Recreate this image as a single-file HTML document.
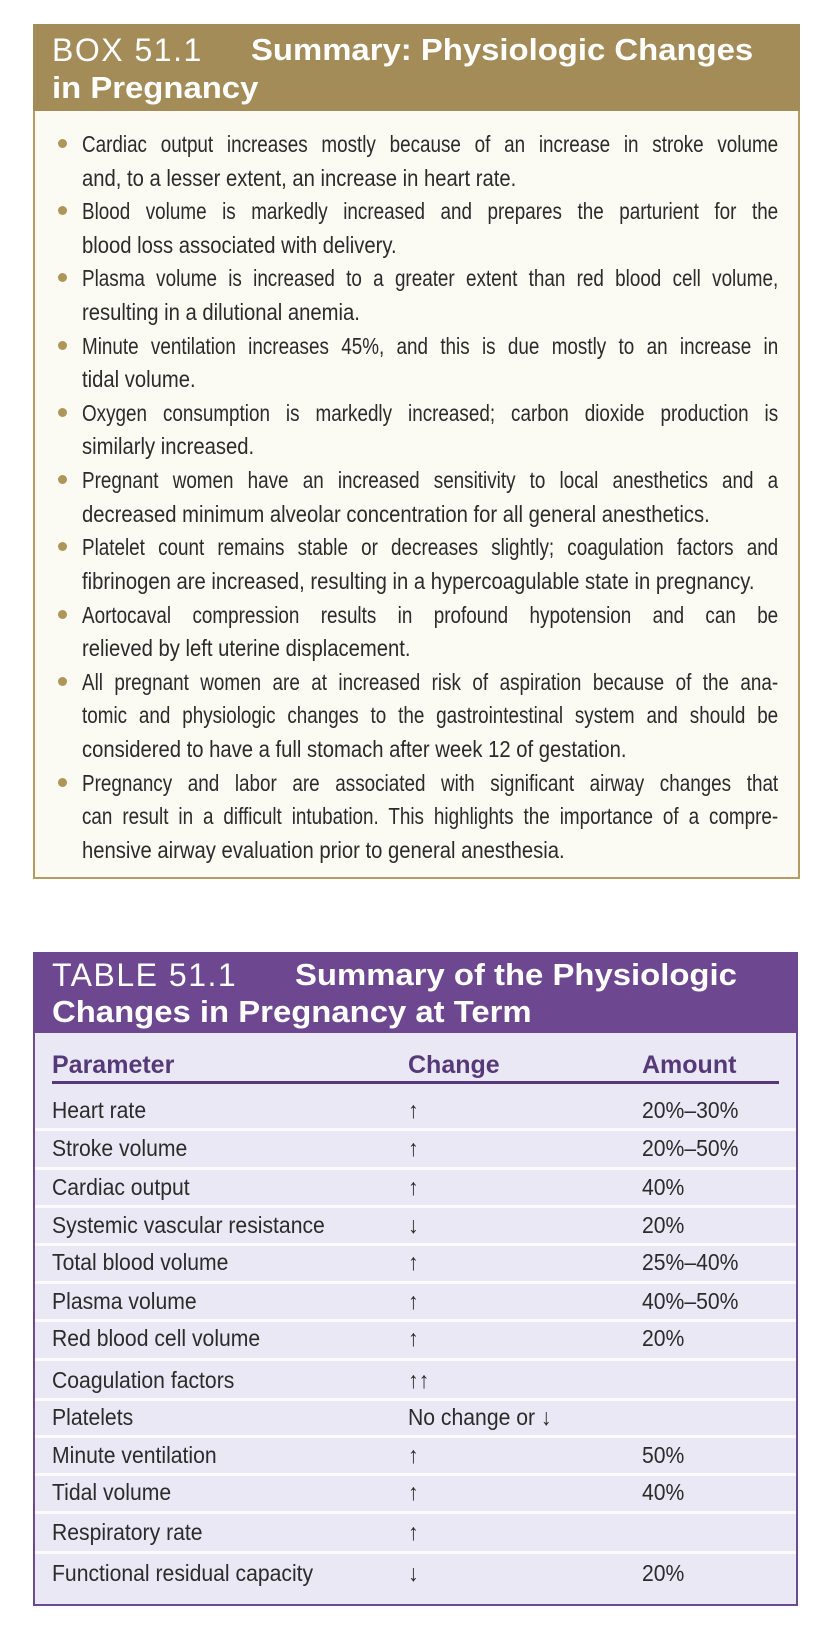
<!DOCTYPE html>
<html><head><meta charset="utf-8">
<style>
*{margin:0;padding:0;box-sizing:border-box}
body{width:820px;height:1630px;background:#fff;position:relative;overflow:hidden;font-family:"Liberation Sans",sans-serif;}
.box{position:absolute;left:33px;top:24px;width:767px;height:855px;border:2px solid #b59c60;background:#fbfaf3;}
.bh{position:absolute;left:33px;top:24px;width:767px;height:87px;background:#a48c58;}
.t{position:absolute;color:#fff;height:38px;line-height:38px;white-space:nowrap;}
.lt{font-size:32px;letter-spacing:1.5px;}
.bt{font-size:31px;font-weight:bold;display:inline-block;transform:scaleX(1.06);transform-origin:left center;}
.ln{position:absolute;left:82px;height:34px;line-height:34px;font-size:23px;color:#2b2b2b;white-space:nowrap;width:790px;transform:scaleX(.88);transform-origin:left center;}
.j{text-align:justify;text-align-last:justify;white-space:normal;overflow:hidden;width:849px;transform:scaleX(.82);}
.dot{position:absolute;left:58px;width:9px;height:9px;border-radius:50%;background:#b0955b;}
.tbl{position:absolute;left:33px;top:952px;width:765px;height:654px;border:2px solid #6b4a8f;background:#eae8f4;}
.th{position:absolute;left:33px;top:952px;width:765px;height:81px;background:#6d4790;}
.sep{position:absolute;left:35px;width:761px;height:3px;background:#fbfbfe;}
.c{position:absolute;font-size:23px;height:38px;line-height:38px;color:#2b2b2b;white-space:nowrap;transform:scaleX(.92);transform-origin:left center;}
.hd{position:absolute;font-size:25px;font-weight:bold;color:#553978;height:38px;line-height:38px;white-space:nowrap;}
</style></head><body>
<div class="box"></div>
<div class="bh"></div>
<div class="t" style="left:52px;top:31px;"><span class="lt">BOX 51.1</span></div>
<div class="t" style="left:251px;top:31px;"><span class="bt">Summary: Physiologic Changes</span></div>
<div class="t" style="left:52px;top:69px;"><span class="bt">in Pregnancy</span></div>

<div class="dot" style="top:139px"></div>
<div class="ln j" style="top:127px">Cardiac output increases mostly because of an increase in stroke volume</div>
<div class="ln" style="top:161px">and, to a lesser extent, an increase in heart rate.</div>
<div class="dot" style="top:206px"></div>
<div class="ln j" style="top:194px">Blood volume is markedly increased and prepares the parturient for the</div>
<div class="ln" style="top:228px">blood loss associated with delivery.</div>
<div class="dot" style="top:273px"></div>
<div class="ln j" style="top:261px">Plasma volume is increased to a greater extent than red blood cell volume,</div>
<div class="ln" style="top:295px">resulting in a dilutional anemia.</div>
<div class="dot" style="top:341px"></div>
<div class="ln j" style="top:329px">Minute ventilation increases 45%, and this is due mostly to an increase in</div>
<div class="ln" style="top:362px">tidal volume.</div>
<div class="dot" style="top:408px"></div>
<div class="ln j" style="top:396px">Oxygen consumption is markedly increased; carbon dioxide production is</div>
<div class="ln" style="top:429px">similarly increased.</div>
<div class="dot" style="top:475px"></div>
<div class="ln j" style="top:463px">Pregnant women have an increased sensitivity to local anesthetics and a</div>
<div class="ln" style="top:497px">decreased minimum alveolar concentration for all general anesthetics.</div>
<div class="dot" style="top:542px"></div>
<div class="ln j" style="top:530px">Platelet count remains stable or decreases slightly; coagulation factors and</div>
<div class="ln" style="top:564px">fibrinogen are increased, resulting in a hypercoagulable state in pregnancy.</div>
<div class="dot" style="top:610px"></div>
<div class="ln j" style="top:598px">Aortocaval compression results in profound hypotension and can be</div>
<div class="ln" style="top:631px">relieved by left uterine displacement.</div>
<div class="dot" style="top:677px"></div>
<div class="ln j" style="top:665px">All pregnant women are at increased risk of aspiration because of the ana-</div>
<div class="ln j" style="top:698px">tomic and physiologic changes to the gastrointestinal system and should be</div>
<div class="ln" style="top:732px">considered to have a full stomach after week 12 of gestation.</div>
<div class="dot" style="top:778px"></div>
<div class="ln j" style="top:766px">Pregnancy and labor are associated with significant airway changes that</div>
<div class="ln j" style="top:799px">can result in a difficult intubation. This highlights the importance of a compre-</div>
<div class="ln" style="top:833px">hensive airway evaluation prior to general anesthesia.</div>

<div class="tbl"></div>
<div class="th"></div>
<div class="t" style="left:52px;top:956px;"><span class="lt">TABLE 51.1</span></div>
<div class="t" style="left:295px;top:956px;"><span class="bt">Summary of the Physiologic</span></div>
<div class="t" style="left:52px;top:993px;"><span class="bt">Changes in Pregnancy at Term</span></div>

<div class="hd" style="left:52px;top:1046px">Parameter</div>
<div class="hd" style="left:408px;top:1046px">Change</div>
<div class="hd" style="left:642px;top:1046px">Amount</div>
<div style="position:absolute;left:52px;top:1081px;width:727px;height:3px;background:#553978"></div>

<div class="sep" style="top:1128px"></div>
<div class="sep" style="top:1167px"></div>
<div class="sep" style="top:1205px"></div>
<div class="sep" style="top:1243px"></div>
<div class="sep" style="top:1281px"></div>
<div class="sep" style="top:1319px"></div>
<div class="sep" style="top:1358px"></div>
<div class="sep" style="top:1398px"></div>
<div class="sep" style="top:1435px"></div>
<div class="sep" style="top:1473px"></div>
<div class="sep" style="top:1511px"></div>
<div class="sep" style="top:1551px"></div>

<div class="c" style="left:52px;top:1091px">Heart rate</div><div class="c" style="left:408px;top:1091px">↑</div><div class="c" style="left:642px;top:1091px">20%–30%</div>
<div class="c" style="left:52px;top:1129px">Stroke volume</div><div class="c" style="left:408px;top:1129px">↑</div><div class="c" style="left:642px;top:1129px">20%–50%</div>
<div class="c" style="left:52px;top:1168px">Cardiac output</div><div class="c" style="left:408px;top:1168px">↑</div><div class="c" style="left:642px;top:1168px">40%</div>
<div class="c" style="left:52px;top:1206px">Systemic vascular resistance</div><div class="c" style="left:408px;top:1206px">↓</div><div class="c" style="left:642px;top:1206px">20%</div>
<div class="c" style="left:52px;top:1243px">Total blood volume</div><div class="c" style="left:408px;top:1243px">↑</div><div class="c" style="left:642px;top:1243px">25%–40%</div>
<div class="c" style="left:52px;top:1282px">Plasma volume</div><div class="c" style="left:408px;top:1282px">↑</div><div class="c" style="left:642px;top:1282px">40%–50%</div>
<div class="c" style="left:52px;top:1319px">Red blood cell volume</div><div class="c" style="left:408px;top:1319px">↑</div><div class="c" style="left:642px;top:1319px">20%</div>
<div class="c" style="left:52px;top:1361px">Coagulation factors</div><div class="c" style="left:408px;top:1361px">↑↑</div>
<div class="c" style="left:52px;top:1398px">Platelets</div><div class="c" style="left:408px;top:1398px">No change or ↓</div>
<div class="c" style="left:52px;top:1436px">Minute ventilation</div><div class="c" style="left:408px;top:1436px">↑</div><div class="c" style="left:642px;top:1436px">50%</div>
<div class="c" style="left:52px;top:1473px">Tidal volume</div><div class="c" style="left:408px;top:1473px">↑</div><div class="c" style="left:642px;top:1473px">40%</div>
<div class="c" style="left:52px;top:1513px">Respiratory rate</div><div class="c" style="left:408px;top:1513px">↑</div>
<div class="c" style="left:52px;top:1554px">Functional residual capacity</div><div class="c" style="left:408px;top:1554px">↓</div><div class="c" style="left:642px;top:1554px">20%</div>
</body></html>
